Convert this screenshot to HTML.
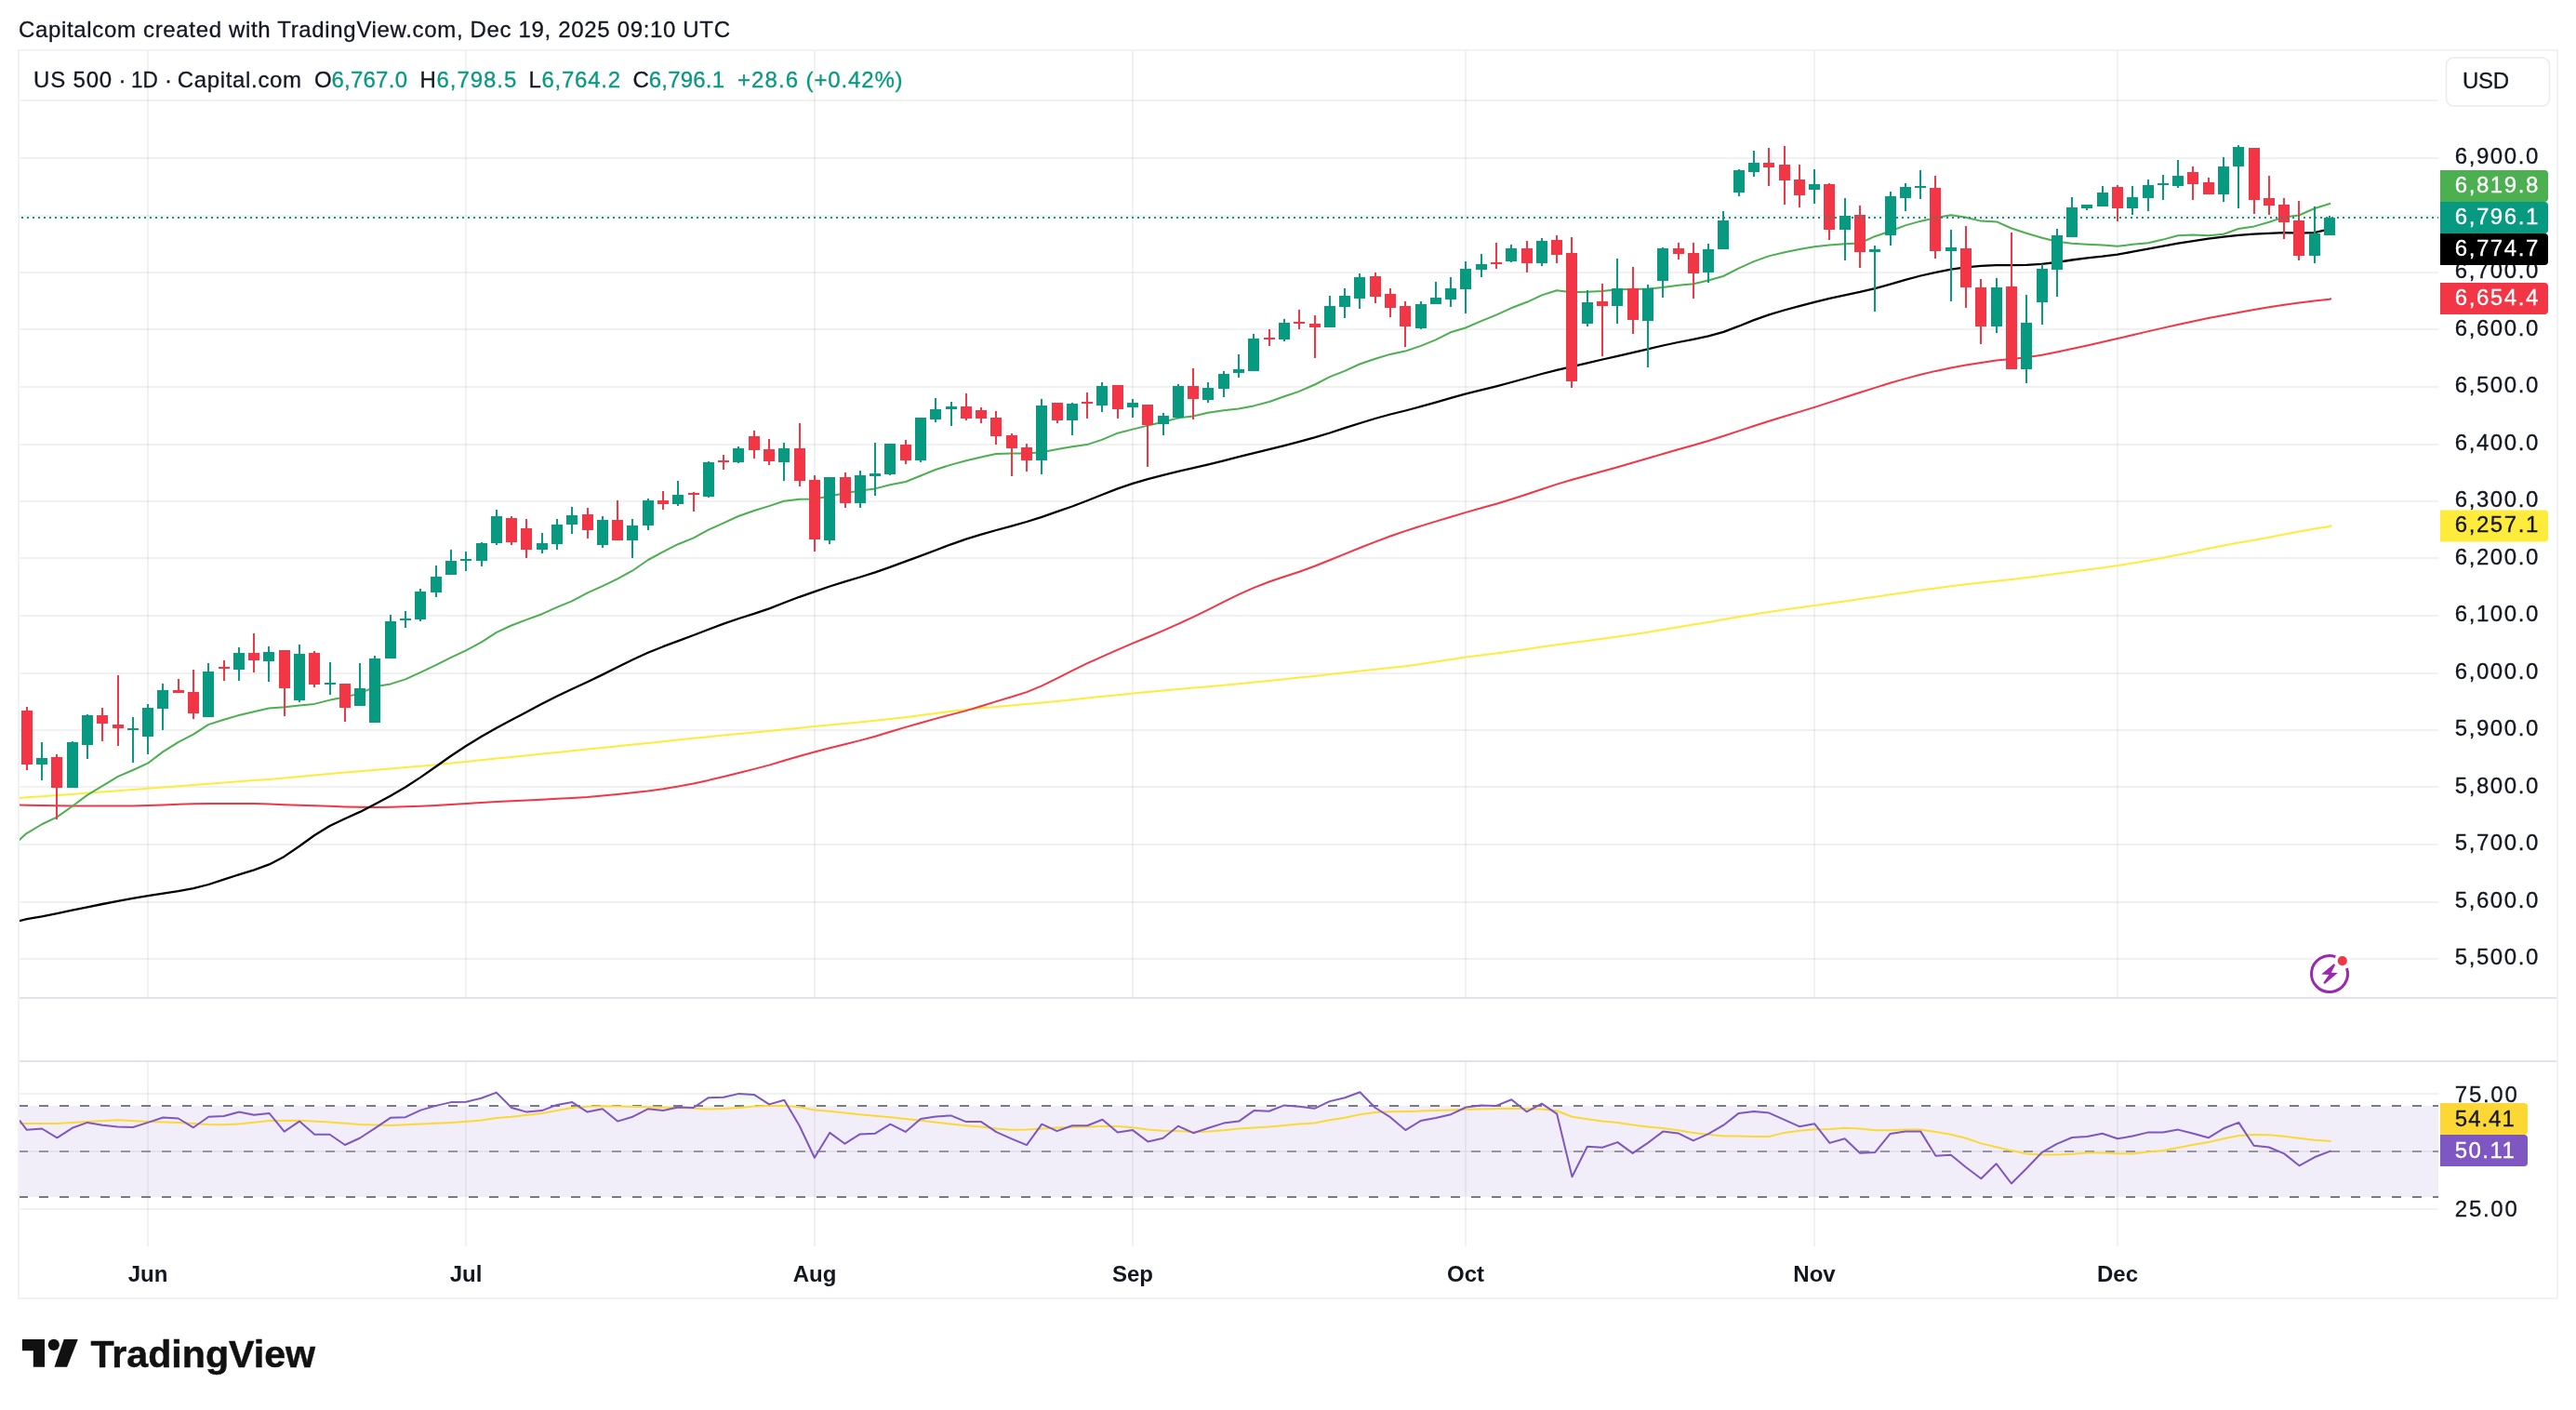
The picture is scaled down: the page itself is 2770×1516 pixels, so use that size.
<!DOCTYPE html>
<html lang="en"><head><meta charset="utf-8"><title>US 500 chart</title>
<style>html,body{margin:0;padding:0;background:#fff}body{width:2770px;height:1516px;overflow:hidden}svg{display:block;will-change:transform}</style></head>
<body>
<svg width="2770" height="1516" viewBox="0 0 2770 1516" font-family="'Liberation Sans', Arial, sans-serif">
<defs>
<clipPath id="cm"><rect x="21" y="55" width="2601" height="1017"/></clipPath>
<clipPath id="cr"><rect x="21" y="1142" width="2601" height="198"/></clipPath>
<linearGradient id="ob" gradientUnits="userSpaceOnUse" x1="0" y1="1115" x2="0" y2="1189"><stop offset="0" stop-color="#4CAF50" stop-opacity="0.7"/><stop offset="1" stop-color="#4CAF50" stop-opacity="0"/></linearGradient>
</defs>
<rect width="2770" height="1516" fill="#fff"/>
<g stroke="rgba(42,46,57,0.065)" stroke-width="2" shape-rendering="crispEdges">
<line x1="159" y1="55" x2="159" y2="1072"/>
<line x1="159" y1="1142" x2="159" y2="1340"/>
<line x1="501" y1="55" x2="501" y2="1072"/>
<line x1="501" y1="1142" x2="501" y2="1340"/>
<line x1="876" y1="55" x2="876" y2="1072"/>
<line x1="876" y1="1142" x2="876" y2="1340"/>
<line x1="1218" y1="55" x2="1218" y2="1072"/>
<line x1="1218" y1="1142" x2="1218" y2="1340"/>
<line x1="1576" y1="55" x2="1576" y2="1072"/>
<line x1="1576" y1="1142" x2="1576" y2="1340"/>
<line x1="1951" y1="55" x2="1951" y2="1072"/>
<line x1="1951" y1="1142" x2="1951" y2="1340"/>
<line x1="2277" y1="55" x2="2277" y2="1072"/>
<line x1="2277" y1="1142" x2="2277" y2="1340"/>
<line x1="21" y1="1031" x2="2622" y2="1031"/>
<line x1="21" y1="970" x2="2622" y2="970"/>
<line x1="21" y1="908" x2="2622" y2="908"/>
<line x1="21" y1="846" x2="2622" y2="846"/>
<line x1="21" y1="785" x2="2622" y2="785"/>
<line x1="21" y1="724" x2="2622" y2="724"/>
<line x1="21" y1="662" x2="2622" y2="662"/>
<line x1="21" y1="600" x2="2622" y2="600"/>
<line x1="21" y1="539" x2="2622" y2="539"/>
<line x1="21" y1="478" x2="2622" y2="478"/>
<line x1="21" y1="416" x2="2622" y2="416"/>
<line x1="21" y1="354" x2="2622" y2="354"/>
<line x1="21" y1="293" x2="2622" y2="293"/>
<line x1="21" y1="232" x2="2622" y2="232"/>
<line x1="21" y1="170" x2="2622" y2="170"/>
<line x1="21" y1="108" x2="2622" y2="108"/>
<line x1="21" y1="1176" x2="2622" y2="1176"/>
<line x1="21" y1="1238" x2="2622" y2="1238"/>
<line x1="21" y1="1300" x2="2622" y2="1300"/>
</g>
<rect x="21" y="1189" width="2601" height="98" fill="#7E57C2" fill-opacity="0.1"/>
<g stroke-width="2" stroke-dasharray="10 12" shape-rendering="crispEdges">
<line x1="20" y1="1189" x2="2622" y2="1189" stroke="#787B86"/>
<line x1="20" y1="1238" x2="2622" y2="1238" stroke="#787B86" stroke-opacity="0.75"/>
<line x1="20" y1="1287" x2="2622" y2="1287" stroke="#787B86"/>
</g>
<polyline clip-path="url(#cm)" points="20.1,858.2 28.8,857.3 45.1,856.3 61.4,855.1 77.7,853.9 94.0,852.6 110.3,851.4 126.5,850.2 142.8,849.0 159.1,847.8 175.4,846.5 191.7,845.3 208.0,844.1 224.3,842.8 240.6,841.6 256.9,840.3 273.2,839.1 289.5,837.9 305.7,836.5 322.0,835.0 338.3,833.5 354.6,832.0 370.9,830.5 387.2,829.2 403.5,827.8 419.8,826.4 436.1,825.1 452.4,823.7 468.7,822.2 484.9,820.6 501.2,818.9 517.5,817.2 533.8,815.5 550.1,813.9 566.4,812.2 582.7,810.6 599.0,808.9 615.3,807.2 631.6,805.6 647.9,803.9 664.1,802.2 680.4,800.6 696.7,798.9 713.0,797.2 729.3,795.5 745.6,793.8 761.9,792.2 778.2,790.6 794.5,789.0 810.8,787.4 827.1,785.9 843.3,784.3 859.6,782.7 875.9,781.1 892.2,779.6 908.5,778.0 924.8,776.4 941.1,774.8 957.4,773.1 973.7,771.2 990.0,769.1 1006.3,766.9 1022.5,764.8 1038.8,762.9 1055.1,761.3 1071.4,759.9 1087.7,758.6 1104.0,757.1 1120.3,755.6 1136.6,753.9 1152.9,752.2 1169.2,750.5 1185.5,748.8 1201.8,747.2 1218.0,745.6 1234.3,744.1 1250.6,742.5 1266.9,741.0 1283.2,739.6 1299.5,738.2 1315.8,736.8 1332.1,735.2 1348.4,733.6 1364.7,731.9 1381.0,730.3 1397.2,728.6 1413.5,726.9 1429.8,725.1 1446.1,723.2 1462.4,721.4 1478.7,719.7 1495.0,718.0 1511.3,716.2 1527.6,714.1 1543.9,711.6 1560.2,709.0 1576.4,706.6 1592.7,704.4 1609.0,702.4 1625.3,700.3 1641.6,698.0 1657.9,695.6 1674.2,693.3 1690.5,691.0 1706.8,688.9 1723.1,686.8 1739.4,684.6 1755.6,682.2 1771.9,679.7 1788.2,677.0 1804.5,674.3 1820.8,671.6 1837.1,668.9 1853.4,666.1 1869.7,663.3 1886.0,660.5 1902.3,657.9 1918.6,655.5 1934.8,653.2 1951.1,651.0 1967.4,648.8 1983.7,646.5 2000.0,644.1 2016.3,641.8 2032.6,639.3 2048.9,636.9 2065.2,634.6 2081.5,632.4 2097.8,630.3 2114.0,628.3 2130.3,626.5 2146.6,624.8 2162.9,623.0 2179.2,621.1 2195.5,619.0 2211.8,616.8 2228.1,614.7 2244.4,612.6 2260.7,610.4 2277.0,608.1 2293.2,605.6 2309.5,602.8 2325.8,599.8 2342.1,596.6 2358.4,593.3 2374.7,589.8 2391.0,586.6 2407.3,583.6 2423.6,580.7 2439.9,577.7 2456.2,574.6 2472.4,571.5 2488.7,568.4 2505.0,566.1 2506.9,564.6" fill="none" stroke="#FFEB3B" stroke-width="2" stroke-linejoin="round" stroke-linecap="butt"/>
<polyline clip-path="url(#cm)" points="20.1,865.5 28.8,865.7 45.1,866.0 61.4,866.3 77.7,866.5 94.0,866.6 110.3,866.6 126.5,866.6 142.8,866.5 159.1,866.0 175.4,865.4 191.7,864.8 208.0,864.3 224.3,864.0 240.6,863.9 256.9,863.9 273.2,864.1 289.5,864.6 305.7,865.2 322.0,865.7 338.3,866.2 354.6,866.8 370.9,867.4 387.2,867.7 403.5,867.9 419.8,867.7 436.1,867.3 452.4,866.8 468.7,866.0 484.9,865.0 501.2,863.9 517.5,863.0 533.8,862.1 550.1,861.3 566.4,860.6 582.7,859.7 599.0,858.8 615.3,857.9 631.6,856.9 647.9,855.5 664.1,853.9 680.4,852.3 696.7,850.6 713.0,848.3 729.3,845.6 745.6,842.4 761.9,838.9 778.2,835.0 794.5,831.0 810.8,826.9 827.1,822.6 843.3,817.8 859.6,813.0 875.9,808.5 892.2,804.3 908.5,800.2 924.8,796.1 941.1,791.7 957.4,786.8 973.7,781.9 990.0,777.2 1006.3,772.6 1022.5,768.4 1038.8,764.1 1055.1,759.2 1071.4,754.1 1087.7,749.3 1104.0,744.1 1120.3,737.4 1136.6,729.4 1152.9,721.1 1169.2,713.2 1185.5,705.9 1201.8,698.7 1218.0,691.7 1234.3,685.0 1250.6,678.1 1266.9,670.9 1283.2,663.3 1299.5,655.3 1315.8,647.1 1332.1,639.2 1348.4,631.9 1364.7,625.5 1381.0,620.0 1397.2,614.8 1413.5,608.8 1429.8,602.2 1446.1,595.6 1462.4,589.0 1478.7,582.6 1495.0,576.5 1511.3,570.9 1527.6,565.6 1543.9,560.6 1560.2,555.7 1576.4,550.9 1592.7,546.3 1609.0,541.7 1625.3,536.7 1641.6,531.5 1657.9,526.0 1674.2,520.6 1690.5,515.8 1706.8,511.2 1723.1,506.7 1739.4,502.2 1755.6,497.5 1771.9,492.7 1788.2,488.0 1804.5,483.3 1820.8,478.8 1837.1,474.0 1853.4,468.8 1869.7,463.4 1886.0,458.0 1902.3,452.7 1918.6,447.7 1934.8,442.9 1951.1,437.9 1967.4,432.6 1983.7,427.2 2000.0,422.0 2016.3,416.9 2032.6,411.8 2048.9,407.1 2065.2,402.8 2081.5,398.9 2097.8,395.6 2114.0,392.6 2130.3,389.9 2146.6,387.6 2162.9,385.9 2179.2,384.3 2195.5,381.8 2211.8,378.5 2228.1,375.0 2244.4,371.4 2260.7,367.7 2277.0,364.0 2293.2,360.2 2309.5,356.4 2325.8,352.6 2342.1,349.0 2358.4,345.5 2374.7,342.1 2391.0,338.9 2407.3,335.9 2423.6,332.9 2439.9,330.2 2456.2,327.8 2472.4,325.6 2488.7,323.4 2505.0,321.7 2506.9,321.0" fill="none" stroke="#F23645" stroke-width="2" stroke-linejoin="round" stroke-linecap="butt"/>
<polyline clip-path="url(#cm)" points="20.1,990.3 28.8,988.2 45.1,985.4 61.4,982.1 77.7,978.7 94.0,975.3 110.3,972.0 126.5,968.9 142.8,965.9 159.1,963.1 175.4,960.6 191.7,958.1 208.0,955.1 224.3,951.0 240.6,945.7 256.9,940.3 273.2,935.3 289.5,929.4 305.7,920.9 322.0,909.8 338.3,898.0 354.6,888.0 370.9,880.3 387.2,872.9 403.5,864.5 419.8,855.8 436.1,846.2 452.4,835.6 468.7,824.2 484.9,812.8 501.2,802.0 517.5,792.0 533.8,782.7 550.1,774.1 566.4,765.4 582.7,756.8 599.0,748.5 615.3,740.7 631.6,733.2 647.9,725.4 664.1,717.3 680.4,709.3 696.7,701.8 713.0,695.2 729.3,689.2 745.6,683.0 761.9,676.7 778.2,670.7 794.5,665.0 810.8,659.9 827.1,654.4 843.3,648.0 859.6,641.8 875.9,636.1 892.2,630.5 908.5,625.3 924.8,620.5 941.1,615.4 957.4,609.6 973.7,603.6 990.0,597.7 1006.3,591.5 1022.5,585.3 1038.8,579.6 1055.1,574.6 1071.4,570.0 1087.7,565.6 1104.0,561.0 1120.3,555.8 1136.6,550.2 1152.9,544.5 1169.2,538.3 1185.5,531.7 1201.8,525.4 1218.0,519.9 1234.3,515.2 1250.6,510.9 1266.9,506.8 1283.2,503.1 1299.5,499.3 1315.8,495.3 1332.1,491.2 1348.4,487.2 1364.7,483.1 1381.0,479.1 1397.2,474.9 1413.5,470.4 1429.8,465.5 1446.1,460.2 1462.4,455.0 1478.7,450.0 1495.0,445.5 1511.3,441.5 1527.6,437.2 1543.9,432.6 1560.2,427.9 1576.4,423.4 1592.7,419.3 1609.0,415.3 1625.3,411.0 1641.6,406.5 1657.9,402.0 1674.2,397.8 1690.5,394.2 1706.8,390.4 1723.1,386.5 1739.4,382.8 1755.6,379.1 1771.9,375.3 1788.2,371.5 1804.5,368.0 1820.8,364.8 1837.1,361.4 1853.4,356.8 1869.7,350.7 1886.0,344.1 1902.3,338.3 1918.6,333.5 1934.8,329.1 1951.1,324.8 1967.4,320.9 1983.7,317.3 2000.0,313.9 2016.3,310.1 2032.6,305.6 2048.9,300.8 2065.2,296.5 2081.5,292.8 2097.8,289.7 2114.0,287.4 2130.3,285.9 2146.6,285.1 2162.9,285.1 2179.2,284.8 2195.5,283.8 2211.8,282.0 2228.1,279.5 2244.4,277.3 2260.7,275.7 2277.0,273.6 2293.2,270.7 2309.5,267.6 2325.8,264.6 2342.1,261.7 2358.4,259.1 2374.7,256.7 2391.0,254.6 2407.3,252.9 2423.6,251.7 2439.9,250.8 2456.2,250.2 2472.4,250.7 2488.7,250.2 2499.3,247.6 2505.0,246.5 2506.2,246.2" fill="none" stroke="#000000" stroke-width="2.3" stroke-linejoin="round" stroke-linecap="butt"/>
<polyline clip-path="url(#cm)" points="20.1,903.8 27.7,896.7 45.5,886.0 61.1,878.6 77.9,866.8 93.8,854.9 110.0,845.1 126.9,834.8 142.9,828.0 158.9,820.7 175.1,808.4 191.9,797.8 207.8,789.7 224.0,779.1 240.8,773.7 256.9,769.0 272.9,765.2 289.1,761.5 305.9,760.3 321.9,758.4 338.0,756.9 355.0,752.6 371.0,749.4 386.9,745.6 403.1,738.3 420.0,735.4 435.9,730.4 452.3,722.8 468.6,715.1 485.0,706.9 501.0,699.4 517.8,690.4 534.0,679.8 549.9,672.5 565.9,666.4 582.9,660.2 598.9,652.9 614.9,646.4 631.8,637.4 648.0,630.1 664.0,622.4 679.9,613.7 696.9,602.0 712.9,593.4 728.9,585.2 745.8,578.4 761.8,569.7 778.0,562.4 794.0,555.0 811.0,549.0 827.0,544.1 843.0,538.8 859.9,536.8 875.9,536.5 891.9,533.5 908.9,530.3 924.8,527.5 941.0,525.4 957.0,521.3 973.9,518.0 989.9,511.5 1005.9,505.0 1022.9,499.6 1039.0,495.2 1055.0,491.5 1071.0,488.0 1087.9,487.4 1103.9,487.5 1119.9,486.2 1136.9,483.0 1152.9,480.2 1168.8,478.1 1184.8,472.9 1201.8,465.7 1217.8,461.6 1233.9,457.6 1250.9,453.8 1266.9,449.4 1282.9,447.5 1298.9,443.7 1315.8,441.3 1331.8,439.6 1347.9,436.4 1364.9,432.0 1380.9,426.3 1396.9,420.9 1413.8,413.5 1430.0,405.1 1446.0,398.9 1462.0,391.5 1478.9,385.8 1494.9,380.9 1510.9,377.6 1527.9,371.9 1543.8,365.4 1559.8,357.3 1575.8,352.5 1592.9,345.2 1608.9,338.6 1624.9,331.3 1641.9,324.8 1657.9,317.4 1674.0,312.2 1690.0,314.2 1707.0,313.7 1722.9,312.9 1738.9,311.2 1755.9,310.9 1771.9,310.6 1787.9,309.0 1804.8,306.8 1821.0,305.2 1837.0,301.5 1852.9,297.0 1869.9,288.4 1885.9,281.1 1901.9,275.4 1919.0,271.3 1935.0,268.0 1951.0,265.3 1966.9,263.6 1983.9,262.3 1999.9,261.5 2015.9,254.2 2032.8,248.5 2048.8,242.4 2064.8,237.9 2081.0,234.3 2097.9,231.3 2113.9,233.8 2130.0,237.6 2147.0,238.4 2163.0,245.5 2178.9,250.7 2195.9,255.7 2211.9,259.8 2228.0,261.8 2244.0,262.7 2261.0,263.4 2277.0,264.7 2293.1,262.8 2310.0,261.2 2325.9,257.6 2342.0,253.2 2357.9,252.5 2374.9,253.2 2391.0,251.8 2407.0,246.0 2424.0,243.4 2440.0,238.7 2456.1,233.4 2472.1,231.5 2489.1,224.0 2506.2,218.8" fill="none" stroke="#4CAF50" stroke-width="2" stroke-linejoin="round" stroke-linecap="butt"/>
<g shape-rendering="crispEdges">
<rect x="28" y="760" width="2" height="68" fill="#F23645"/><rect x="23" y="764" width="12" height="58" fill="#F23645"/>
<rect x="44" y="798" width="2" height="41" fill="#089981"/><rect x="39" y="815" width="12" height="7" fill="#089981"/>
<rect x="60" y="811" width="2" height="70" fill="#F23645"/><rect x="55" y="814" width="12" height="33" fill="#F23645"/>
<rect x="77" y="797" width="2" height="50" fill="#089981"/><rect x="72" y="798" width="12" height="49" fill="#089981"/>
<rect x="93" y="768" width="2" height="48" fill="#089981"/><rect x="88" y="769" width="12" height="32" fill="#089981"/>
<rect x="109" y="761" width="2" height="36" fill="#F23645"/><rect x="104" y="769" width="12" height="9" fill="#F23645"/>
<rect x="126" y="726" width="2" height="76" fill="#F23645"/><rect x="121" y="779" width="12" height="4" fill="#F23645"/>
<rect x="142" y="771" width="2" height="49" fill="#089981"/><rect x="137" y="783" width="12" height="2" fill="#089981"/>
<rect x="158" y="757" width="2" height="54" fill="#089981"/><rect x="153" y="761" width="12" height="31" fill="#089981"/>
<rect x="174" y="735" width="2" height="50" fill="#089981"/><rect x="169" y="742" width="12" height="20" fill="#089981"/>
<rect x="191" y="730" width="2" height="15" fill="#F23645"/><rect x="186" y="742" width="12" height="3" fill="#F23645"/>
<rect x="207" y="720" width="2" height="53" fill="#F23645"/><rect x="202" y="744" width="12" height="23" fill="#F23645"/>
<rect x="223" y="713" width="2" height="58" fill="#089981"/><rect x="218" y="722" width="12" height="49" fill="#089981"/>
<rect x="240" y="710" width="2" height="22" fill="#F23645"/><rect x="235" y="717" width="12" height="2" fill="#F23645"/>
<rect x="256" y="696" width="2" height="36" fill="#089981"/><rect x="251" y="702" width="12" height="18" fill="#089981"/>
<rect x="272" y="681" width="2" height="42" fill="#F23645"/><rect x="267" y="702" width="12" height="8" fill="#F23645"/>
<rect x="288" y="695" width="2" height="38" fill="#089981"/><rect x="283" y="701" width="12" height="10" fill="#089981"/>
<rect x="305" y="699" width="2" height="71" fill="#F23645"/><rect x="300" y="699" width="12" height="41" fill="#F23645"/>
<rect x="321" y="693" width="2" height="62" fill="#089981"/><rect x="316" y="703" width="12" height="50" fill="#089981"/>
<rect x="337" y="700" width="2" height="39" fill="#F23645"/><rect x="332" y="702" width="12" height="34" fill="#F23645"/>
<rect x="354" y="712" width="2" height="35" fill="#089981"/><rect x="349" y="734" width="12" height="2" fill="#089981"/>
<rect x="370" y="735" width="2" height="41" fill="#F23645"/><rect x="365" y="735" width="12" height="26" fill="#F23645"/>
<rect x="386" y="713" width="2" height="46" fill="#089981"/><rect x="381" y="740" width="12" height="19" fill="#089981"/>
<rect x="402" y="705" width="2" height="72" fill="#089981"/><rect x="397" y="708" width="12" height="69" fill="#089981"/>
<rect x="419" y="661" width="2" height="47" fill="#089981"/><rect x="414" y="668" width="12" height="40" fill="#089981"/>
<rect x="435" y="657" width="2" height="18" fill="#089981"/><rect x="430" y="665" width="12" height="2" fill="#089981"/>
<rect x="451" y="633" width="2" height="35" fill="#089981"/><rect x="446" y="636" width="12" height="30" fill="#089981"/>
<rect x="468" y="608" width="2" height="34" fill="#089981"/><rect x="463" y="620" width="12" height="17" fill="#089981"/>
<rect x="484" y="591" width="2" height="27" fill="#089981"/><rect x="479" y="603" width="12" height="15" fill="#089981"/>
<rect x="500" y="593" width="2" height="21" fill="#089981"/><rect x="495" y="601" width="12" height="2" fill="#089981"/>
<rect x="517" y="583" width="2" height="26" fill="#089981"/><rect x="512" y="584" width="12" height="19" fill="#089981"/>
<rect x="533" y="548" width="2" height="38" fill="#089981"/><rect x="528" y="555" width="12" height="29" fill="#089981"/>
<rect x="549" y="555" width="2" height="31" fill="#F23645"/><rect x="544" y="557" width="12" height="26" fill="#F23645"/>
<rect x="565" y="558" width="2" height="42" fill="#F23645"/><rect x="560" y="568" width="12" height="23" fill="#F23645"/>
<rect x="582" y="573" width="2" height="22" fill="#089981"/><rect x="577" y="584" width="12" height="7" fill="#089981"/>
<rect x="598" y="558" width="2" height="33" fill="#089981"/><rect x="593" y="564" width="12" height="21" fill="#089981"/>
<rect x="614" y="545" width="2" height="29" fill="#089981"/><rect x="609" y="554" width="12" height="10" fill="#089981"/>
<rect x="631" y="546" width="2" height="33" fill="#F23645"/><rect x="626" y="553" width="12" height="17" fill="#F23645"/>
<rect x="647" y="555" width="2" height="34" fill="#089981"/><rect x="642" y="559" width="12" height="27" fill="#089981"/>
<rect x="663" y="538" width="2" height="43" fill="#F23645"/><rect x="658" y="559" width="12" height="22" fill="#F23645"/>
<rect x="679" y="558" width="2" height="42" fill="#089981"/><rect x="674" y="565" width="12" height="16" fill="#089981"/>
<rect x="696" y="536" width="2" height="34" fill="#089981"/><rect x="691" y="538" width="12" height="27" fill="#089981"/>
<rect x="712" y="528" width="2" height="20" fill="#F23645"/><rect x="707" y="538" width="12" height="4" fill="#F23645"/>
<rect x="728" y="517" width="2" height="27" fill="#089981"/><rect x="723" y="532" width="12" height="10" fill="#089981"/>
<rect x="745" y="529" width="2" height="21" fill="#F23645"/><rect x="740" y="530" width="12" height="2" fill="#F23645"/>
<rect x="761" y="496" width="2" height="39" fill="#089981"/><rect x="756" y="497" width="12" height="37" fill="#089981"/>
<rect x="777" y="489" width="2" height="16" fill="#F23645"/><rect x="772" y="495" width="12" height="2" fill="#F23645"/>
<rect x="793" y="480" width="2" height="18" fill="#089981"/><rect x="788" y="482" width="12" height="15" fill="#089981"/>
<rect x="810" y="463" width="2" height="30" fill="#F23645"/><rect x="805" y="469" width="12" height="15" fill="#F23645"/>
<rect x="826" y="472" width="2" height="28" fill="#F23645"/><rect x="821" y="483" width="12" height="13" fill="#F23645"/>
<rect x="842" y="476" width="2" height="41" fill="#089981"/><rect x="837" y="482" width="12" height="15" fill="#089981"/>
<rect x="859" y="455" width="2" height="68" fill="#F23645"/><rect x="854" y="482" width="12" height="35" fill="#F23645"/>
<rect x="875" y="511" width="2" height="82" fill="#F23645"/><rect x="870" y="516" width="12" height="64" fill="#F23645"/>
<rect x="891" y="513" width="2" height="72" fill="#089981"/><rect x="886" y="513" width="12" height="68" fill="#089981"/>
<rect x="908" y="508" width="2" height="38" fill="#F23645"/><rect x="903" y="513" width="12" height="28" fill="#F23645"/>
<rect x="924" y="506" width="2" height="40" fill="#089981"/><rect x="919" y="511" width="12" height="30" fill="#089981"/>
<rect x="940" y="476" width="2" height="57" fill="#089981"/><rect x="935" y="509" width="12" height="3" fill="#089981"/>
<rect x="956" y="477" width="2" height="34" fill="#089981"/><rect x="951" y="477" width="12" height="33" fill="#089981"/>
<rect x="973" y="473" width="2" height="26" fill="#F23645"/><rect x="968" y="478" width="12" height="17" fill="#F23645"/>
<rect x="989" y="449" width="2" height="48" fill="#089981"/><rect x="984" y="449" width="12" height="46" fill="#089981"/>
<rect x="1005" y="428" width="2" height="26" fill="#089981"/><rect x="1000" y="440" width="12" height="11" fill="#089981"/>
<rect x="1022" y="432" width="2" height="26" fill="#089981"/><rect x="1017" y="437" width="12" height="3" fill="#089981"/>
<rect x="1038" y="423" width="2" height="29" fill="#F23645"/><rect x="1033" y="437" width="12" height="13" fill="#F23645"/>
<rect x="1054" y="438" width="2" height="17" fill="#F23645"/><rect x="1049" y="441" width="12" height="9" fill="#F23645"/>
<rect x="1070" y="442" width="2" height="36" fill="#F23645"/><rect x="1065" y="449" width="12" height="20" fill="#F23645"/>
<rect x="1087" y="466" width="2" height="46" fill="#F23645"/><rect x="1082" y="468" width="12" height="14" fill="#F23645"/>
<rect x="1103" y="477" width="2" height="30" fill="#F23645"/><rect x="1098" y="481" width="12" height="14" fill="#F23645"/>
<rect x="1119" y="429" width="2" height="81" fill="#089981"/><rect x="1114" y="436" width="12" height="59" fill="#089981"/>
<rect x="1136" y="433" width="2" height="22" fill="#F23645"/><rect x="1131" y="433" width="12" height="19" fill="#F23645"/>
<rect x="1152" y="433" width="2" height="35" fill="#089981"/><rect x="1147" y="434" width="12" height="18" fill="#089981"/>
<rect x="1168" y="422" width="2" height="28" fill="#F23645"/><rect x="1163" y="432" width="12" height="2" fill="#F23645"/>
<rect x="1184" y="411" width="2" height="32" fill="#089981"/><rect x="1179" y="415" width="12" height="21" fill="#089981"/>
<rect x="1201" y="414" width="2" height="36" fill="#F23645"/><rect x="1196" y="414" width="12" height="26" fill="#F23645"/>
<rect x="1217" y="429" width="2" height="20" fill="#089981"/><rect x="1212" y="433" width="12" height="5" fill="#089981"/>
<rect x="1233" y="435" width="2" height="67" fill="#F23645"/><rect x="1228" y="435" width="12" height="22" fill="#F23645"/>
<rect x="1250" y="444" width="2" height="24" fill="#089981"/><rect x="1245" y="447" width="12" height="9" fill="#089981"/>
<rect x="1266" y="413" width="2" height="37" fill="#089981"/><rect x="1261" y="415" width="12" height="34" fill="#089981"/>
<rect x="1282" y="396" width="2" height="55" fill="#F23645"/><rect x="1277" y="415" width="12" height="14" fill="#F23645"/>
<rect x="1298" y="411" width="2" height="22" fill="#089981"/><rect x="1293" y="417" width="12" height="13" fill="#089981"/>
<rect x="1315" y="399" width="2" height="28" fill="#089981"/><rect x="1310" y="402" width="12" height="16" fill="#089981"/>
<rect x="1331" y="381" width="2" height="25" fill="#089981"/><rect x="1326" y="397" width="12" height="4" fill="#089981"/>
<rect x="1347" y="359" width="2" height="40" fill="#089981"/><rect x="1342" y="364" width="12" height="35" fill="#089981"/>
<rect x="1364" y="354" width="2" height="18" fill="#F23645"/><rect x="1359" y="363" width="12" height="2" fill="#F23645"/>
<rect x="1380" y="343" width="2" height="24" fill="#089981"/><rect x="1375" y="347" width="12" height="18" fill="#089981"/>
<rect x="1396" y="333" width="2" height="21" fill="#F23645"/><rect x="1391" y="346" width="12" height="2" fill="#F23645"/>
<rect x="1413" y="339" width="2" height="46" fill="#F23645"/><rect x="1408" y="348" width="12" height="4" fill="#F23645"/>
<rect x="1429" y="318" width="2" height="34" fill="#089981"/><rect x="1424" y="329" width="12" height="23" fill="#089981"/>
<rect x="1445" y="310" width="2" height="32" fill="#089981"/><rect x="1440" y="318" width="12" height="12" fill="#089981"/>
<rect x="1461" y="294" width="2" height="38" fill="#089981"/><rect x="1456" y="298" width="12" height="23" fill="#089981"/>
<rect x="1478" y="293" width="2" height="33" fill="#F23645"/><rect x="1473" y="297" width="12" height="22" fill="#F23645"/>
<rect x="1494" y="310" width="2" height="31" fill="#F23645"/><rect x="1489" y="316" width="12" height="15" fill="#F23645"/>
<rect x="1510" y="324" width="2" height="49" fill="#F23645"/><rect x="1505" y="329" width="12" height="22" fill="#F23645"/>
<rect x="1527" y="324" width="2" height="30" fill="#089981"/><rect x="1522" y="327" width="12" height="26" fill="#089981"/>
<rect x="1543" y="303" width="2" height="24" fill="#089981"/><rect x="1538" y="320" width="12" height="7" fill="#089981"/>
<rect x="1559" y="298" width="2" height="32" fill="#089981"/><rect x="1554" y="310" width="12" height="12" fill="#089981"/>
<rect x="1575" y="281" width="2" height="56" fill="#089981"/><rect x="1570" y="289" width="12" height="22" fill="#089981"/>
<rect x="1592" y="273" width="2" height="25" fill="#089981"/><rect x="1587" y="284" width="12" height="6" fill="#089981"/>
<rect x="1608" y="261" width="2" height="28" fill="#F23645"/><rect x="1603" y="282" width="12" height="2" fill="#F23645"/>
<rect x="1624" y="263" width="2" height="19" fill="#089981"/><rect x="1619" y="267" width="12" height="14" fill="#089981"/>
<rect x="1641" y="259" width="2" height="34" fill="#F23645"/><rect x="1636" y="267" width="12" height="16" fill="#F23645"/>
<rect x="1657" y="256" width="2" height="30" fill="#089981"/><rect x="1652" y="259" width="12" height="24" fill="#089981"/>
<rect x="1673" y="253" width="2" height="30" fill="#F23645"/><rect x="1668" y="258" width="12" height="16" fill="#F23645"/>
<rect x="1689" y="255" width="2" height="162" fill="#F23645"/><rect x="1684" y="272" width="12" height="138" fill="#F23645"/>
<rect x="1706" y="312" width="2" height="39" fill="#089981"/><rect x="1701" y="325" width="12" height="23" fill="#089981"/>
<rect x="1722" y="305" width="2" height="78" fill="#F23645"/><rect x="1717" y="324" width="12" height="5" fill="#F23645"/>
<rect x="1738" y="278" width="2" height="70" fill="#089981"/><rect x="1733" y="310" width="12" height="19" fill="#089981"/>
<rect x="1755" y="287" width="2" height="72" fill="#F23645"/><rect x="1750" y="310" width="12" height="34" fill="#F23645"/>
<rect x="1771" y="306" width="2" height="89" fill="#089981"/><rect x="1766" y="310" width="12" height="35" fill="#089981"/>
<rect x="1787" y="266" width="2" height="54" fill="#089981"/><rect x="1782" y="267" width="12" height="35" fill="#089981"/>
<rect x="1804" y="261" width="2" height="18" fill="#F23645"/><rect x="1799" y="267" width="12" height="6" fill="#F23645"/>
<rect x="1820" y="261" width="2" height="60" fill="#F23645"/><rect x="1815" y="272" width="12" height="22" fill="#F23645"/>
<rect x="1836" y="262" width="2" height="42" fill="#089981"/><rect x="1831" y="268" width="12" height="25" fill="#089981"/>
<rect x="1852" y="227" width="2" height="41" fill="#089981"/><rect x="1847" y="237" width="12" height="31" fill="#089981"/>
<rect x="1869" y="182" width="2" height="29" fill="#089981"/><rect x="1864" y="183" width="12" height="24" fill="#089981"/>
<rect x="1885" y="162" width="2" height="28" fill="#089981"/><rect x="1880" y="175" width="12" height="10" fill="#089981"/>
<rect x="1901" y="159" width="2" height="41" fill="#F23645"/><rect x="1896" y="175" width="12" height="5" fill="#F23645"/>
<rect x="1918" y="157" width="2" height="63" fill="#F23645"/><rect x="1913" y="177" width="12" height="17" fill="#F23645"/>
<rect x="1934" y="177" width="2" height="46" fill="#F23645"/><rect x="1929" y="193" width="12" height="17" fill="#F23645"/>
<rect x="1950" y="182" width="2" height="37" fill="#089981"/><rect x="1945" y="198" width="12" height="6" fill="#089981"/>
<rect x="1966" y="197" width="2" height="61" fill="#F23645"/><rect x="1961" y="198" width="12" height="49" fill="#F23645"/>
<rect x="1983" y="213" width="2" height="67" fill="#089981"/><rect x="1978" y="232" width="12" height="15" fill="#089981"/>
<rect x="1999" y="221" width="2" height="67" fill="#F23645"/><rect x="1994" y="231" width="12" height="40" fill="#F23645"/>
<rect x="2015" y="264" width="2" height="71" fill="#089981"/><rect x="2010" y="268" width="12" height="3" fill="#089981"/>
<rect x="2032" y="206" width="2" height="58" fill="#089981"/><rect x="2027" y="211" width="12" height="42" fill="#089981"/>
<rect x="2048" y="197" width="2" height="30" fill="#089981"/><rect x="2043" y="201" width="12" height="12" fill="#089981"/>
<rect x="2064" y="183" width="2" height="31" fill="#089981"/><rect x="2059" y="200" width="12" height="2" fill="#089981"/>
<rect x="2080" y="189" width="2" height="89" fill="#F23645"/><rect x="2075" y="202" width="12" height="68" fill="#F23645"/>
<rect x="2097" y="247" width="2" height="77" fill="#089981"/><rect x="2092" y="266" width="12" height="4" fill="#089981"/>
<rect x="2113" y="243" width="2" height="88" fill="#F23645"/><rect x="2108" y="267" width="12" height="42" fill="#F23645"/>
<rect x="2129" y="300" width="2" height="70" fill="#F23645"/><rect x="2124" y="309" width="12" height="42" fill="#F23645"/>
<rect x="2146" y="299" width="2" height="59" fill="#089981"/><rect x="2141" y="309" width="12" height="42" fill="#089981"/>
<rect x="2162" y="250" width="2" height="147" fill="#F23645"/><rect x="2157" y="308" width="12" height="89" fill="#F23645"/>
<rect x="2178" y="317" width="2" height="95" fill="#089981"/><rect x="2173" y="347" width="12" height="50" fill="#089981"/>
<rect x="2195" y="284" width="2" height="65" fill="#089981"/><rect x="2190" y="289" width="12" height="36" fill="#089981"/>
<rect x="2211" y="246" width="2" height="73" fill="#089981"/><rect x="2206" y="253" width="12" height="37" fill="#089981"/>
<rect x="2227" y="212" width="2" height="43" fill="#089981"/><rect x="2222" y="223" width="12" height="32" fill="#089981"/>
<rect x="2243" y="220" width="2" height="6" fill="#089981"/><rect x="2238" y="220" width="12" height="4" fill="#089981"/>
<rect x="2260" y="200" width="2" height="22" fill="#089981"/><rect x="2255" y="207" width="12" height="15" fill="#089981"/>
<rect x="2276" y="199" width="2" height="39" fill="#F23645"/><rect x="2271" y="201" width="12" height="23" fill="#F23645"/>
<rect x="2292" y="200" width="2" height="31" fill="#089981"/><rect x="2287" y="212" width="12" height="12" fill="#089981"/>
<rect x="2309" y="193" width="2" height="34" fill="#089981"/><rect x="2304" y="199" width="12" height="14" fill="#089981"/>
<rect x="2325" y="188" width="2" height="27" fill="#089981"/><rect x="2320" y="197" width="12" height="2" fill="#089981"/>
<rect x="2341" y="172" width="2" height="30" fill="#089981"/><rect x="2336" y="189" width="12" height="11" fill="#089981"/>
<rect x="2357" y="179" width="2" height="36" fill="#F23645"/><rect x="2352" y="185" width="12" height="13" fill="#F23645"/>
<rect x="2374" y="191" width="2" height="18" fill="#F23645"/><rect x="2369" y="196" width="12" height="13" fill="#F23645"/>
<rect x="2390" y="169" width="2" height="48" fill="#089981"/><rect x="2385" y="179" width="12" height="30" fill="#089981"/>
<rect x="2406" y="156" width="2" height="68" fill="#089981"/><rect x="2401" y="158" width="12" height="21" fill="#089981"/>
<rect x="2423" y="159" width="2" height="71" fill="#F23645"/><rect x="2418" y="159" width="12" height="56" fill="#F23645"/>
<rect x="2439" y="189" width="2" height="42" fill="#F23645"/><rect x="2434" y="213" width="12" height="8" fill="#F23645"/>
<rect x="2455" y="213" width="2" height="44" fill="#F23645"/><rect x="2450" y="220" width="12" height="19" fill="#F23645"/>
<rect x="2471" y="216" width="2" height="64" fill="#F23645"/><rect x="2466" y="237" width="12" height="38" fill="#F23645"/>
<rect x="2488" y="222" width="2" height="61" fill="#089981"/><rect x="2483" y="251" width="12" height="24" fill="#089981"/>
<rect x="2504" y="232" width="2" height="21" fill="#089981"/><rect x="2499" y="234" width="12" height="19" fill="#089981"/>
</g>
<line x1="23" y1="234" x2="2622" y2="234" stroke="#089981" stroke-width="2" stroke-dasharray="2 4" shape-rendering="crispEdges"/>
<clipPath id="ob70"><rect x="21" y="1142" width="2601" height="47"/></clipPath>
<polygon clip-path="url(#ob70)" points="21,1189 21.0,1204.6 28.8,1214.8 45.1,1213.5 61.4,1223.3 77.7,1212.8 94.0,1206.9 110.3,1209.7 126.5,1211.5 142.8,1212.0 159.1,1206.9 175.4,1201.5 191.7,1202.5 208.0,1212.3 224.3,1200.7 240.6,1200.0 256.9,1195.6 273.2,1198.7 289.5,1196.9 305.7,1216.6 322.0,1205.6 338.3,1219.7 354.6,1219.7 370.9,1231.0 387.2,1223.5 403.5,1212.8 419.8,1201.8 436.1,1201.2 452.4,1193.6 468.7,1188.9 484.9,1185.1 501.2,1184.8 517.5,1180.7 533.8,1174.6 550.1,1191.0 566.4,1195.6 582.7,1194.1 599.0,1187.9 615.3,1185.1 631.6,1195.6 647.9,1192.3 664.1,1205.6 680.4,1200.7 696.7,1192.3 713.0,1194.1 729.3,1190.5 745.6,1191.0 761.9,1180.2 778.2,1179.7 794.5,1175.9 810.8,1176.9 827.1,1187.4 843.3,1182.8 859.6,1210.2 875.9,1244.8 892.2,1217.9 908.5,1229.7 924.8,1219.4 941.1,1218.7 957.4,1208.7 973.7,1216.9 990.0,1203.0 1006.3,1200.5 1022.5,1199.4 1038.8,1206.1 1055.1,1206.1 1071.4,1217.1 1087.7,1224.3 1104.0,1231.2 1120.3,1208.7 1136.6,1216.1 1152.9,1210.2 1169.2,1210.2 1185.5,1203.8 1201.8,1217.6 1218.0,1215.1 1234.3,1227.4 1250.6,1223.8 1266.9,1210.7 1283.2,1218.2 1299.5,1212.8 1315.8,1207.6 1332.1,1205.6 1348.4,1194.1 1364.7,1194.8 1381.0,1188.4 1397.2,1189.7 1413.5,1191.8 1429.8,1184.1 1446.1,1180.2 1462.4,1174.3 1478.7,1191.0 1495.0,1201.2 1511.3,1215.1 1527.6,1205.1 1543.9,1202.0 1560.2,1198.2 1576.4,1190.5 1592.7,1188.4 1609.0,1188.9 1625.3,1182.3 1641.6,1195.3 1657.9,1186.6 1674.2,1197.7 1690.5,1265.3 1706.8,1232.8 1723.1,1233.8 1739.4,1228.1 1755.6,1239.9 1771.9,1228.9 1788.2,1216.6 1804.5,1218.4 1820.8,1226.4 1837.1,1219.2 1853.4,1209.7 1869.7,1196.9 1886.0,1195.1 1902.3,1196.6 1918.6,1203.8 1934.8,1211.2 1951.1,1208.2 1967.4,1228.9 1983.7,1224.3 2000.0,1239.7 2016.3,1238.9 2032.6,1218.9 2048.9,1216.4 2065.2,1216.4 2081.5,1242.7 2097.8,1241.7 2114.0,1255.0 2130.3,1267.3 2146.6,1251.2 2162.9,1272.5 2179.2,1256.3 2195.5,1239.2 2211.8,1229.9 2228.1,1223.0 2244.4,1222.0 2260.7,1218.7 2277.0,1224.3 2293.2,1221.5 2309.5,1217.6 2325.8,1217.4 2342.1,1214.6 2358.4,1218.7 2374.7,1223.3 2391.0,1213.3 2407.3,1206.9 2423.6,1231.7 2439.9,1233.5 2456.2,1240.4 2472.4,1253.3 2488.7,1244.3 2506.5,1237.4 2505.0,1189" fill="url(#ob)"/>
<polyline clip-path="url(#cr)" points="21.0,1207.9 61.4,1207.9 94.0,1205.9 126.5,1204.3 159.1,1205.9 191.7,1206.9 224.3,1208.9 240.6,1209.2 256.9,1208.4 289.5,1205.1 322.0,1204.8 354.6,1206.4 387.2,1208.9 419.8,1210.0 452.4,1208.4 484.9,1206.9 517.5,1204.6 533.8,1202.0 550.1,1200.7 582.7,1196.9 615.3,1191.0 631.6,1189.7 647.9,1189.2 664.1,1189.5 696.7,1190.2 729.3,1191.0 761.9,1192.5 778.2,1192.0 794.5,1191.0 810.8,1189.5 827.1,1188.9 843.3,1188.7 859.6,1190.2 875.9,1193.6 892.2,1194.8 924.8,1198.2 957.4,1201.2 990.0,1204.8 1022.5,1208.4 1038.8,1210.2 1055.1,1211.5 1071.4,1213.5 1087.7,1214.8 1104.0,1214.6 1120.3,1213.5 1136.6,1212.5 1152.9,1212.0 1169.2,1211.5 1185.5,1211.0 1201.8,1211.0 1218.0,1212.3 1234.3,1214.6 1250.6,1215.8 1266.9,1216.1 1283.2,1217.1 1299.5,1216.6 1315.8,1215.3 1332.1,1213.5 1364.7,1211.5 1397.2,1208.4 1413.5,1207.4 1429.8,1204.3 1446.1,1201.8 1462.4,1198.2 1478.7,1196.1 1495.0,1195.3 1527.6,1194.6 1560.2,1193.6 1576.4,1192.8 1592.7,1192.5 1625.3,1191.8 1657.9,1192.5 1674.2,1194.3 1690.5,1200.7 1706.8,1203.3 1723.1,1205.6 1739.4,1207.1 1755.6,1209.4 1771.9,1211.5 1788.2,1213.0 1804.5,1215.3 1820.8,1217.9 1837.1,1219.7 1853.4,1221.5 1869.7,1221.5 1886.0,1222.0 1902.3,1222.0 1918.6,1217.9 1934.8,1215.8 1951.1,1214.3 1967.4,1214.1 1983.7,1212.8 2000.0,1213.5 2016.3,1215.3 2032.6,1215.3 2048.9,1214.6 2065.2,1214.6 2081.5,1217.1 2097.8,1219.7 2114.0,1223.8 2130.3,1229.4 2146.6,1233.3 2162.9,1237.1 2179.2,1240.4 2195.5,1241.5 2211.8,1241.5 2228.1,1240.7 2244.4,1239.4 2260.7,1239.4 2277.0,1240.2 2293.2,1240.4 2309.5,1238.6 2325.8,1237.1 2342.1,1234.0 2358.4,1230.7 2374.7,1228.1 2391.0,1224.3 2407.3,1221.0 2423.6,1219.9 2439.9,1220.2 2456.2,1221.7 2472.4,1223.8 2488.7,1225.8 2506.5,1226.9" fill="none" stroke="#FDD835" stroke-width="2" stroke-linejoin="round"/>
<polyline clip-path="url(#cr)" points="21.0,1204.6 28.8,1214.8 45.1,1213.5 61.4,1223.3 77.7,1212.8 94.0,1206.9 110.3,1209.7 126.5,1211.5 142.8,1212.0 159.1,1206.9 175.4,1201.5 191.7,1202.5 208.0,1212.3 224.3,1200.7 240.6,1200.0 256.9,1195.6 273.2,1198.7 289.5,1196.9 305.7,1216.6 322.0,1205.6 338.3,1219.7 354.6,1219.7 370.9,1231.0 387.2,1223.5 403.5,1212.8 419.8,1201.8 436.1,1201.2 452.4,1193.6 468.7,1188.9 484.9,1185.1 501.2,1184.8 517.5,1180.7 533.8,1174.6 550.1,1191.0 566.4,1195.6 582.7,1194.1 599.0,1187.9 615.3,1185.1 631.6,1195.6 647.9,1192.3 664.1,1205.6 680.4,1200.7 696.7,1192.3 713.0,1194.1 729.3,1190.5 745.6,1191.0 761.9,1180.2 778.2,1179.7 794.5,1175.9 810.8,1176.9 827.1,1187.4 843.3,1182.8 859.6,1210.2 875.9,1244.8 892.2,1217.9 908.5,1229.7 924.8,1219.4 941.1,1218.7 957.4,1208.7 973.7,1216.9 990.0,1203.0 1006.3,1200.5 1022.5,1199.4 1038.8,1206.1 1055.1,1206.1 1071.4,1217.1 1087.7,1224.3 1104.0,1231.2 1120.3,1208.7 1136.6,1216.1 1152.9,1210.2 1169.2,1210.2 1185.5,1203.8 1201.8,1217.6 1218.0,1215.1 1234.3,1227.4 1250.6,1223.8 1266.9,1210.7 1283.2,1218.2 1299.5,1212.8 1315.8,1207.6 1332.1,1205.6 1348.4,1194.1 1364.7,1194.8 1381.0,1188.4 1397.2,1189.7 1413.5,1191.8 1429.8,1184.1 1446.1,1180.2 1462.4,1174.3 1478.7,1191.0 1495.0,1201.2 1511.3,1215.1 1527.6,1205.1 1543.9,1202.0 1560.2,1198.2 1576.4,1190.5 1592.7,1188.4 1609.0,1188.9 1625.3,1182.3 1641.6,1195.3 1657.9,1186.6 1674.2,1197.7 1690.5,1265.3 1706.8,1232.8 1723.1,1233.8 1739.4,1228.1 1755.6,1239.9 1771.9,1228.9 1788.2,1216.6 1804.5,1218.4 1820.8,1226.4 1837.1,1219.2 1853.4,1209.7 1869.7,1196.9 1886.0,1195.1 1902.3,1196.6 1918.6,1203.8 1934.8,1211.2 1951.1,1208.2 1967.4,1228.9 1983.7,1224.3 2000.0,1239.7 2016.3,1238.9 2032.6,1218.9 2048.9,1216.4 2065.2,1216.4 2081.5,1242.7 2097.8,1241.7 2114.0,1255.0 2130.3,1267.3 2146.6,1251.2 2162.9,1272.5 2179.2,1256.3 2195.5,1239.2 2211.8,1229.9 2228.1,1223.0 2244.4,1222.0 2260.7,1218.7 2277.0,1224.3 2293.2,1221.5 2309.5,1217.6 2325.8,1217.4 2342.1,1214.6 2358.4,1218.7 2374.7,1223.3 2391.0,1213.3 2407.3,1206.9 2423.6,1231.7 2439.9,1233.5 2456.2,1240.4 2472.4,1253.3 2488.7,1244.3 2506.5,1237.4" fill="none" stroke="#7E57C2" stroke-width="2" stroke-linejoin="round"/>
<g shape-rendering="crispEdges">
<rect x="21" y="1072" width="2728" height="2" fill="#E0E3EB"/>
<rect x="21" y="1140" width="2728" height="2" fill="#E0E3EB"/>
<rect x="19" y="53" width="2732" height="2" fill="#f1f2f3"/>
<rect x="19" y="1395" width="2732" height="2" fill="#f1f2f3"/>
<rect x="19" y="53" width="2" height="1344" fill="#f1f2f3"/>
<rect x="2749" y="53" width="2" height="1344" fill="#f1f2f3"/>
</g>
<rect x="2488" y="1024" width="39" height="46" rx="8" fill="#fff"/>
<path d="M2523.55,1040.97 A19.5,19.5 0 1 1 2511.35,1028.56" fill="none" stroke="#9C27B0" stroke-width="3"/>
<polygon points="2509.7,1036.2 2511.1,1037.5 2506.8,1045.85 2513.8,1046.1 2499.8,1057.9 2498.4,1056.4 2504.3,1048 2496.2,1047.6" fill="#9C27B0"/>
<circle cx="2518.8" cy="1033.1" r="5.1" fill="#F23645"/>
<text x="20" y="40.3" font-size="24" fill="#131722" stroke="#131722" stroke-width="0.3" textLength="765" lengthAdjust="spacing">Capitalcom created with TradingView.com, Dec 19, 2025 09:10 UTC</text>
<text x="36.0" y="94" font-size="24" fill="#131722" stroke="#131722" stroke-width="0.3" textLength="84.2" lengthAdjust="spacing">US 500</text>
<text x="127.4" y="94" font-size="24" fill="#131722" stroke="#131722" stroke-width="0.3" textLength="7.3" lengthAdjust="spacing">·</text>
<text x="141.0" y="94" font-size="24" fill="#131722" stroke="#131722" stroke-width="0.3" textLength="28.8" lengthAdjust="spacingAndGlyphs">1D</text>
<text x="176.9" y="94" font-size="24" fill="#131722" stroke="#131722" stroke-width="0.3" textLength="7.3" lengthAdjust="spacing">·</text>
<text x="190.7" y="94" font-size="24" fill="#131722" stroke="#131722" stroke-width="0.3" textLength="133.4" lengthAdjust="spacing">Capital.com</text>
<text x="338.0" y="94" font-size="24" fill="#131722" stroke="#131722" stroke-width="0.3" textLength="19.0" lengthAdjust="spacing">O</text>
<text x="356.4" y="94" font-size="24" fill="#089981" stroke="#089981" stroke-width="0.3" textLength="81.6" lengthAdjust="spacing">6,767.0</text>
<text x="451.5" y="94" font-size="24" fill="#131722" stroke="#131722" stroke-width="0.3" textLength="18.5" lengthAdjust="spacing">H</text>
<text x="469.5" y="94" font-size="24" fill="#089981" stroke="#089981" stroke-width="0.3" textLength="85.8" lengthAdjust="spacing">6,798.5</text>
<text x="568.5" y="94" font-size="24" fill="#131722" stroke="#131722" stroke-width="0.3" textLength="14.5" lengthAdjust="spacing">L</text>
<text x="582.5" y="94" font-size="24" fill="#089981" stroke="#089981" stroke-width="0.3" textLength="84.6" lengthAdjust="spacing">6,764.2</text>
<text x="680.5" y="94" font-size="24" fill="#131722" stroke="#131722" stroke-width="0.3" textLength="18.5" lengthAdjust="spacing">C</text>
<text x="697.8" y="94" font-size="24" fill="#089981" stroke="#089981" stroke-width="0.3" textLength="81.2" lengthAdjust="spacing">6,796.1</text>
<text x="792.9" y="94" font-size="24" fill="#089981" stroke="#089981" stroke-width="0.3" textLength="65.2" lengthAdjust="spacing">+28.6</text>
<text x="866.6" y="94" font-size="24" fill="#089981" stroke="#089981" stroke-width="0.3" textLength="104.0" lengthAdjust="spacing">(+0.42%)</text>
<rect x="2630.5" y="62" width="111" height="52" rx="8" fill="#fff" stroke="#ebebeb" stroke-width="1.5"/>
<text x="2648" y="95.3" font-size="24" fill="#131722" stroke="#131722" stroke-width="0.3" textLength="50" lengthAdjust="spacing">USD</text>
<text x="2639.8" y="1037.2" font-size="24" fill="#131722" stroke="#131722" stroke-width="0.3" textLength="89.5" lengthAdjust="spacing">5,500.0</text>
<text x="2639.8" y="975.7" font-size="24" fill="#131722" stroke="#131722" stroke-width="0.3" textLength="89.5" lengthAdjust="spacing">5,600.0</text>
<text x="2639.8" y="914.2" font-size="24" fill="#131722" stroke="#131722" stroke-width="0.3" textLength="89.5" lengthAdjust="spacing">5,700.0</text>
<text x="2639.8" y="852.7" font-size="24" fill="#131722" stroke="#131722" stroke-width="0.3" textLength="89.5" lengthAdjust="spacing">5,800.0</text>
<text x="2639.8" y="791.2" font-size="24" fill="#131722" stroke="#131722" stroke-width="0.3" textLength="89.5" lengthAdjust="spacing">5,900.0</text>
<text x="2639.8" y="729.7" font-size="24" fill="#131722" stroke="#131722" stroke-width="0.3" textLength="89.5" lengthAdjust="spacing">6,000.0</text>
<text x="2639.8" y="668.2" font-size="24" fill="#131722" stroke="#131722" stroke-width="0.3" textLength="89.5" lengthAdjust="spacing">6,100.0</text>
<text x="2639.8" y="606.7" font-size="24" fill="#131722" stroke="#131722" stroke-width="0.3" textLength="89.5" lengthAdjust="spacing">6,200.0</text>
<text x="2639.8" y="545.2" font-size="24" fill="#131722" stroke="#131722" stroke-width="0.3" textLength="89.5" lengthAdjust="spacing">6,300.0</text>
<text x="2639.8" y="483.7" font-size="24" fill="#131722" stroke="#131722" stroke-width="0.3" textLength="89.5" lengthAdjust="spacing">6,400.0</text>
<text x="2639.8" y="422.2" font-size="24" fill="#131722" stroke="#131722" stroke-width="0.3" textLength="89.5" lengthAdjust="spacing">6,500.0</text>
<text x="2639.8" y="360.7" font-size="24" fill="#131722" stroke="#131722" stroke-width="0.3" textLength="89.5" lengthAdjust="spacing">6,600.0</text>
<text x="2639.8" y="299.2" font-size="24" fill="#131722" stroke="#131722" stroke-width="0.3" textLength="89.5" lengthAdjust="spacing">6,700.0</text>
<text x="2639.8" y="237.7" font-size="24" fill="#131722" stroke="#131722" stroke-width="0.3" textLength="89.5" lengthAdjust="spacing">6,800.0</text>
<text x="2639.8" y="176.2" font-size="24" fill="#131722" stroke="#131722" stroke-width="0.3" textLength="89.5" lengthAdjust="spacing">6,900.0</text>
<text x="2639.8" y="1184.8" font-size="24" fill="#131722" stroke="#131722" stroke-width="0.3" textLength="67" lengthAdjust="spacing">75.00</text>
<text x="2639.8" y="1307.8" font-size="24" fill="#131722" stroke="#131722" stroke-width="0.3" textLength="67" lengthAdjust="spacing">25.00</text>
<path d="M2624,183 H2736 a4,4 0 0 1 4,4 V213 a4,4 0 0 1 -4,4 H2624 Z" fill="#4CAF50"/>
<text x="2639.8" y="206.8" font-size="24" fill="#fff" stroke="#fff" stroke-width="0.3" textLength="89.5" lengthAdjust="spacing">6,819.8</text>
<path d="M2624,217 H2736 a4,4 0 0 1 4,4 V247 a4,4 0 0 1 -4,4 H2624 Z" fill="#089981"/>
<text x="2639.8" y="240.8" font-size="24" fill="#fff" stroke="#fff" stroke-width="0.3" textLength="89.5" lengthAdjust="spacing">6,796.1</text>
<path d="M2624,251 H2736 a4,4 0 0 1 4,4 V281 a4,4 0 0 1 -4,4 H2624 Z" fill="#000"/>
<text x="2639.8" y="274.8" font-size="24" fill="#fff" stroke="#fff" stroke-width="0.3" textLength="89.5" lengthAdjust="spacing">6,774.7</text>
<path d="M2624,304 H2736 a4,4 0 0 1 4,4 V334 a4,4 0 0 1 -4,4 H2624 Z" fill="#F23645"/>
<text x="2639.8" y="327.8" font-size="24" fill="#fff" stroke="#fff" stroke-width="0.3" textLength="89.5" lengthAdjust="spacing">6,654.4</text>
<path d="M2624,548.4 H2736 a4,4 0 0 1 4,4 V578.4 a4,4 0 0 1 -4,4 H2624 Z" fill="#FFEB3B"/>
<text x="2639.8" y="572.2" font-size="24" fill="#131722" stroke="#131722" stroke-width="0.3" textLength="89.5" lengthAdjust="spacing">6,257.1</text>
<path d="M2624,1186 H2714 a4,4 0 0 1 4,4 V1216 a4,4 0 0 1 -4,4 H2624 Z" fill="#FDD835"/>
<text x="2639.8" y="1210.7" font-size="24" fill="#131722" stroke="#131722" stroke-width="0.3" textLength="64" lengthAdjust="spacing">54.41</text>
<path d="M2624,1220 H2714 a4,4 0 0 1 4,4 V1250 a4,4 0 0 1 -4,4 H2624 Z" fill="#7E57C2"/>
<text x="2639.8" y="1244.5" font-size="24" fill="#fff" stroke="#fff" stroke-width="0.3" textLength="64" lengthAdjust="spacing">50.11</text>
<text x="159" y="1378.4" font-size="24" font-weight="bold" text-anchor="middle" fill="#131722">Jun</text>
<text x="501" y="1378.4" font-size="24" font-weight="bold" text-anchor="middle" fill="#131722">Jul</text>
<text x="876" y="1378.4" font-size="24" font-weight="bold" text-anchor="middle" fill="#131722">Aug</text>
<text x="1218" y="1378.4" font-size="24" font-weight="bold" text-anchor="middle" fill="#131722">Sep</text>
<text x="1576" y="1378.4" font-size="24" font-weight="bold" text-anchor="middle" fill="#131722">Oct</text>
<text x="1951" y="1378.4" font-size="24" font-weight="bold" text-anchor="middle" fill="#131722">Nov</text>
<text x="2277" y="1378.4" font-size="24" font-weight="bold" text-anchor="middle" fill="#131722">Dec</text>
<path d="M23.9,1440.1 H48 V1469.7 H35.8 V1452.2 H23.9 Z" fill="#111111"/>
<circle cx="57.8" cy="1445.9" r="6.1" fill="#111111"/>
<path d="M68.7,1440.1 H83.8 L72.1,1469.7 H58.5 Z" fill="#111111"/>
<text x="97.5" y="1469.7" font-size="41.3" font-weight="bold" fill="#111111" stroke="#111111" stroke-width="0.5" textLength="241.5" lengthAdjust="spacingAndGlyphs">TradingView</text>
</svg>
</body></html>
